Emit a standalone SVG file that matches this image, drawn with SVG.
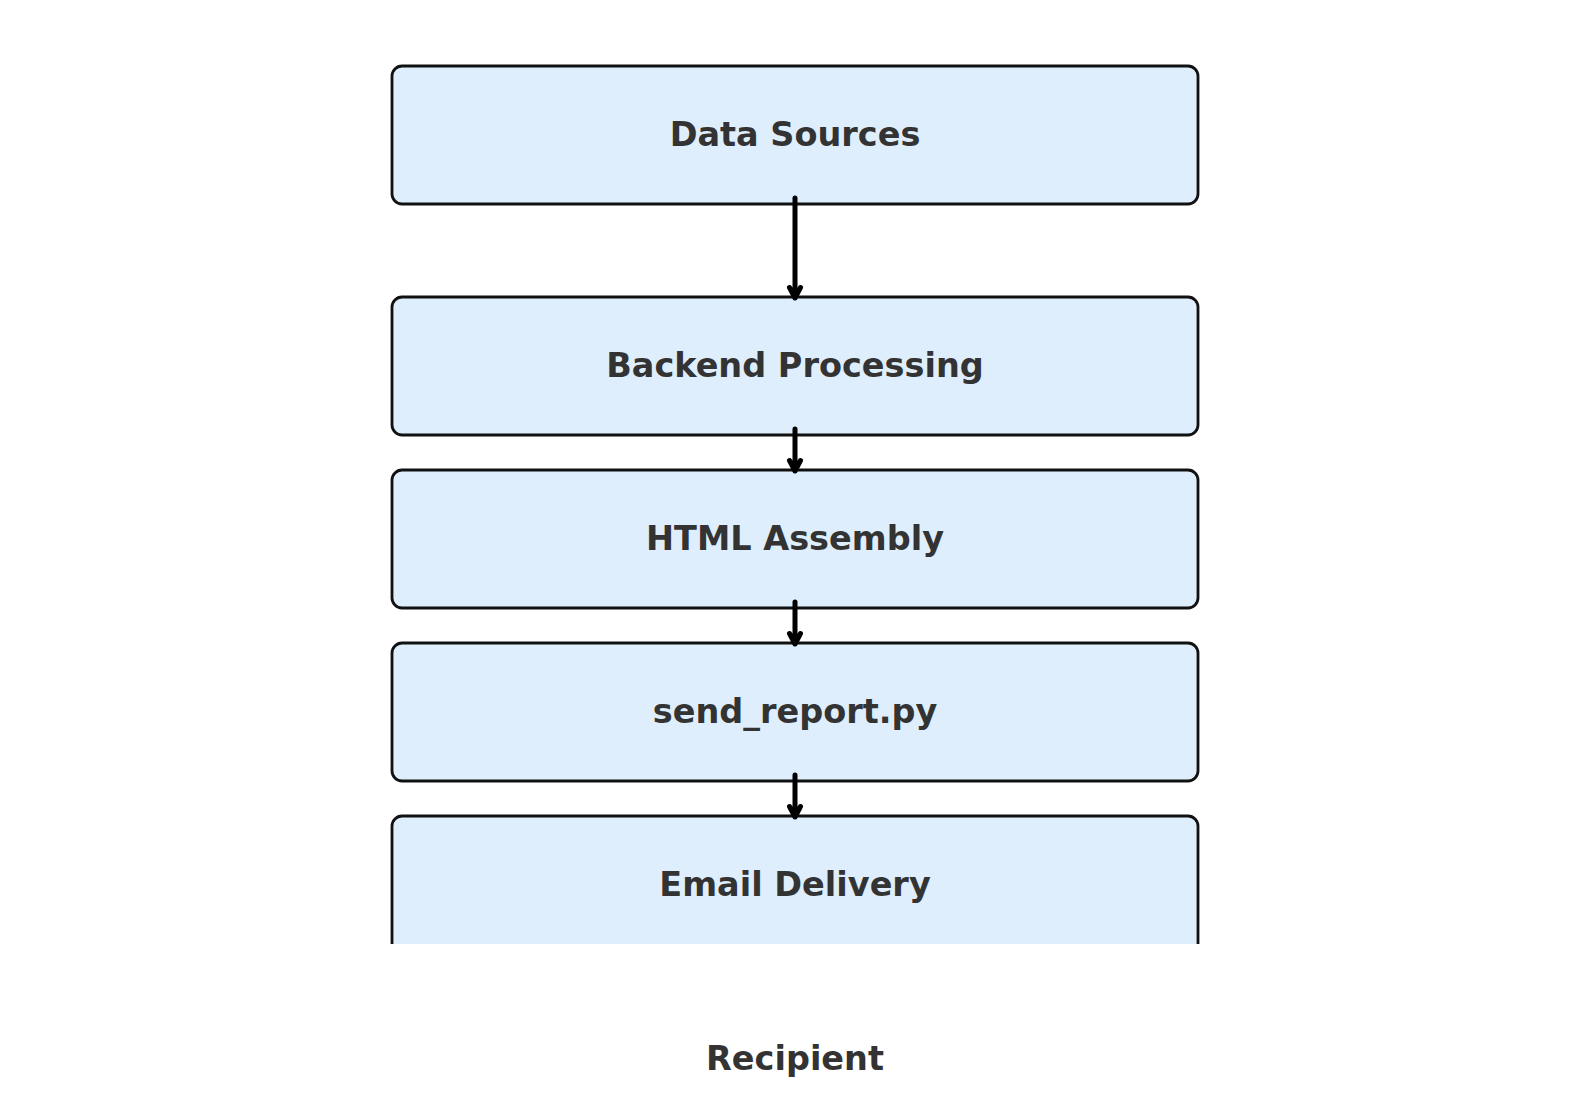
<svg xmlns="http://www.w3.org/2000/svg" width="1589" height="1096" viewBox="0 0 1589 1096">
<style>
.box{fill:#dfeefd;stroke:#111;stroke-width:2.8}
.lbl{font-family:"DejaVu Sans","Liberation Sans",sans-serif;font-weight:bold;font-size:33.5px;fill:#333;text-anchor:middle}
.edge{stroke:#000;stroke-width:5;fill:none;stroke-linecap:round;stroke-linejoin:round}
</style>
<defs>
<clipPath id="clip"><rect x="0" y="0" width="1589" height="944"/></clipPath>
</defs>
<rect width="1589" height="1096" fill="#fff"/>
<g id="n1"><rect class="box" x="392" y="66" width="806" height="138" rx="10"/><text class="lbl" x="795" y="146">Data Sources</text></g>
<g id="n2"><rect class="box" x="392" y="297" width="806" height="138" rx="10"/><text class="lbl" x="795" y="377">Backend Processing</text></g>
<g id="n3"><rect class="box" x="392" y="470" width="806" height="138" rx="10"/><text class="lbl" x="795" y="550">HTML Assembly</text></g>
<g id="n4"><rect class="box" x="392" y="643" width="806" height="138" rx="10"/><text class="lbl" x="795" y="723">send_report.py</text></g>
<g id="n5"><g clip-path="url(#clip)"><rect class="box" x="392" y="816" width="806" height="138" rx="10"/></g><text class="lbl" x="795" y="896">Email Delivery</text></g>
<g id="n6"><text class="lbl" x="795" y="1070">Recipient</text></g>
<g id="edges">
<path class="edge" d="M795 198V298M789.5 287.5L795 298L800.5 287.5"/>
<path class="edge" d="M795 429V471M789.5 460.5L795 471L800.5 460.5"/>
<path class="edge" d="M795 602V644M789.5 633.5L795 644L800.5 633.5"/>
<path class="edge" d="M795 775V817M789.5 806.5L795 817L800.5 806.5"/>
</g>
</svg>
